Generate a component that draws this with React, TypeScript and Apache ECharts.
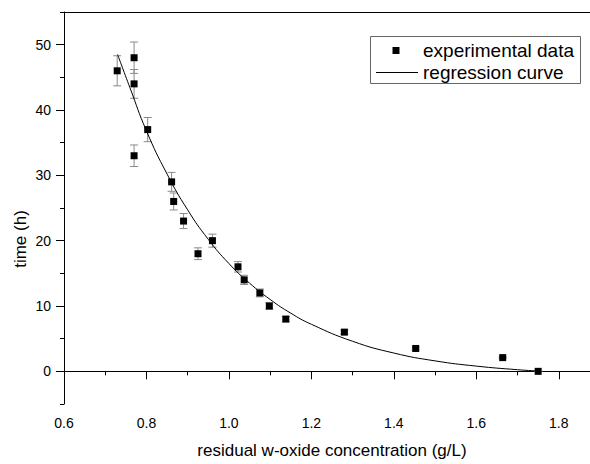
import React, { useEffect, useRef } from "react";
import * as echarts from "echarts";

// Experimental data
const concentration = [0.729, 0.770, 0.770, 0.803, 0.770, 0.861, 0.866, 0.890, 0.925, 0.960, 1.022, 1.037, 1.075, 1.098, 1.138, 1.280, 1.453, 1.664, 1.750];
const timeH = [46, 48, 44, 37, 33, 29, 26, 23, 18, 20, 16, 14, 12, 10, 8, 6, 3.5, 2.1, 0];
const errorH = [2.3, 2.4, 2.2, 1.85, 1.65, 1.45, 1.3, 1.15, 0.9, 1.0, 0.8, 0.7, 0.6, 0.5, 0.4, 0.3, 0.2, 0.1, 0];

// Regression curve
const curveX = [0.73, 0.76, 0.80, 0.85, 0.90, 0.95, 1.00, 1.05, 1.10, 1.15, 1.20, 1.30, 1.40, 1.50, 1.60, 1.70, 1.75];
const curveY = [48.5, 43.4, 36.8, 30.2, 24.7, 20.2, 16.5, 13.5, 11.0, 8.9, 7.2, 4.6, 2.8, 1.6, 0.8, 0.25, 0.05];

// Axis ticks
const xMajor = [0.6, 0.8, 1.0, 1.2, 1.4, 1.6, 1.8];
const xMinor = [0.7, 0.9, 1.1, 1.3, 1.5, 1.7, 1.9];
const yMajor = [0, 10, 20, 30, 40, 50];
const yMinor = [-5, 5, 15, 25, 35, 45, 55];

const FONT = "'Liberation Sans', Arial, sans-serif";

export default function App() {
  const ref = useRef<HTMLDivElement>(null);
  useEffect(() => {
    if (!ref.current) return;
    const chart = echarts.init(ref.current, undefined, { renderer: "svg" });
    const scatterData = concentration.map((x, i) => [x, timeH[i]]);
    const errData = concentration.map((x, i) => [x, timeH[i] - errorH[i], timeH[i] + errorH[i]]);
    const curveData = curveX.map((x, i) => [x, curveY[i]]);
    const axisCommon = { min: 0.6, max: 1.9, type: "value" as const, gridIndex: 0, splitLine: { show: false } };
    const yCommon = { min: -5, max: 55, type: "value" as const, gridIndex: 0, splitLine: { show: false } };
    chart.setOption({
      animation: false,
      backgroundColor: "#fff",
      textStyle: { fontFamily: FONT },
      grid: { left: 64, top: 12, right: 10, bottom: 56.5, containLabel: false },
      xAxis: [
        {
          ...axisCommon,
          position: "bottom",
          axisLine: { show: true, lineStyle: { color: "#000", width: 1 } },
          axisTick: { show: true, customValues: xMajor, length: 8, inside: false, lineStyle: { color: "#000" } },
          axisLabel: {
            show: true, customValues: xMajor, margin: 12, fontSize: 14, color: "#000", fontFamily: FONT,
            formatter: (v: number) => v.toFixed(1),
          },
          name: "residual w-oxide concentration (g/L)",
          nameLocation: "middle",
          nameGap: 38,
          nameTextStyle: { fontSize: 17, color: "#000", fontFamily: FONT },
        },
        {
          ...axisCommon,
          position: "bottom",
          axisLine: { show: false },
          axisTick: { show: true, customValues: xMinor, length: 4, inside: false, lineStyle: { color: "#000" } },
          axisLabel: { show: false },
        },
        {
          ...axisCommon,
          position: "top",
          axisLine: { show: true, lineStyle: { color: "#000", width: 1 } },
          axisTick: { show: false },
          axisLabel: { show: false },
        },
      ],
      yAxis: [
        {
          ...yCommon,
          position: "left",
          axisLine: { show: true, lineStyle: { color: "#000", width: 1 } },
          axisTick: { show: true, customValues: yMajor, length: 8, inside: false, lineStyle: { color: "#000" } },
          axisLabel: {
            show: true, customValues: yMajor, margin: 13, fontSize: 14, color: "#000", fontFamily: FONT,
          },
        },
        {
          ...yCommon,
          position: "left",
          axisLine: { show: false },
          axisTick: { show: true, customValues: yMinor, length: 4, inside: false, lineStyle: { color: "#000" } },
          axisLabel: { show: false },
        },
      ],
      graphic: [
        {
          type: "text",
          x: 20,
          y: 239,
          rotation: Math.PI / 2,
          style: {
            text: "time (h)",
            fontSize: 17,
            fontFamily: FONT,
            fill: "#000",
            textAlign: "center",
            textVerticalAlign: "middle",
          },
        },
        {
          type: "rect",
          shape: { x: 370.5, y: 36.5, width: 210, height: 47 },
          style: { fill: "#fff", stroke: "#666", lineWidth: 1 },
          z: 10,
        },
        {
          type: "rect",
          shape: { x: 392.5, y: 47, width: 7, height: 7 },
          style: { fill: "#000" },
          z: 11,
        },
        {
          type: "line",
          shape: { x1: 376, y1: 72.5, x2: 418, y2: 72.5 },
          style: { stroke: "#000", lineWidth: 1 },
          z: 11,
        },
        {
          type: "text",
          x: 423,
          y: 50.5,
          style: { text: "experimental data", fontSize: 19, fontFamily: FONT, fill: "#000", textVerticalAlign: "middle" },
          z: 11,
        },
        {
          type: "text",
          x: 423,
          y: 72.5,
          style: { text: "regression curve", fontSize: 19, fontFamily: FONT, fill: "#000", textVerticalAlign: "middle" },
          z: 11,
        },
      ],
      series: [
        {
          type: "custom",
          name: "error",
          xAxisIndex: 0,
          yAxisIndex: 0,
          data: errData,
          z: 1,
          renderItem: (params: any, api: any) => {
            const x = api.value(0);
            const lo = api.coord([x, api.value(1)]);
            const hi = api.coord([x, api.value(2)]);
            const cw = 4;
            const style = { stroke: "#8a8a8a", lineWidth: 1 };
            return {
              type: "group",
              children: [
                { type: "line", shape: { x1: lo[0], y1: lo[1], x2: hi[0], y2: hi[1] }, style },
                { type: "line", shape: { x1: hi[0] - cw, y1: hi[1], x2: hi[0] + cw, y2: hi[1] }, style },
                { type: "line", shape: { x1: lo[0] - cw, y1: lo[1], x2: lo[0] + cw, y2: lo[1] }, style },
              ],
            };
          },
        },
        {
          type: "line",
          name: "regression curve",
          data: curveData,
          smooth: 0.5,
          symbol: "none",
          lineStyle: { color: "#000", width: 1 },
          z: 2,
        },
        {
          type: "scatter",
          name: "experimental data",
          data: scatterData,
          symbol: "rect",
          symbolSize: 7,
          itemStyle: { color: "#000", opacity: 1 },
          z: 3,
        },
      ],
    });
    return () => chart.dispose();
  }, []);
  return (
    <div style={{ position: "fixed", left: 0, top: 0, width: 590, height: 464, overflow: "hidden", background: "#fff" }}>
      <div ref={ref} style={{ width: 610, height: 464 }} />
    </div>
  );
}
